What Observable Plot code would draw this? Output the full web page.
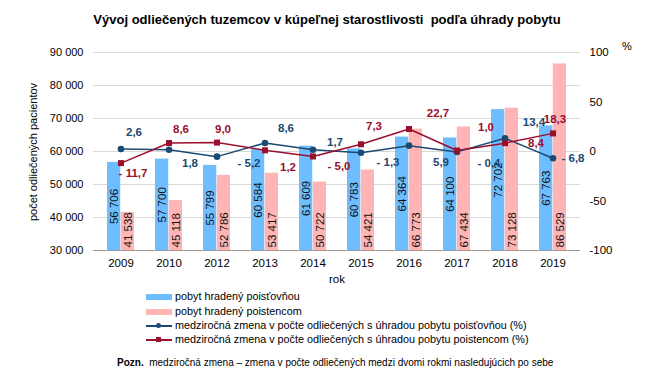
<!DOCTYPE html>
<html><head><meta charset="utf-8">
<script src="https://cdn.jsdelivr.net/npm/d3@7"></script>
<script src="https://cdn.jsdelivr.net/npm/@observablehq/plot@0.6"></script>
<style>
body{margin:0;background:#fff}
#wrap{position:relative;width:650px;height:379px;font-family:"Liberation Sans",Arial,sans-serif;color:#000}
#title{position:absolute;left:0;top:12px;width:654px;text-align:center;font-weight:bold;font-size:13px;white-space:pre}
#chart{position:absolute;left:0;top:0}
#pct{position:absolute;left:622px;top:40px;font-size:11px}
#ylab{position:absolute;left:33px;top:152px;font-size:11px;white-space:nowrap;transform:translate(-50%,-50%) rotate(-90deg)}
.leg{position:absolute;left:146px;font-size:10.8px;height:14px;line-height:14px}
.leg span.sw{display:inline-block;vertical-align:middle;width:26px;margin-right:3px;position:relative}
#note{position:absolute;left:117px;top:357px;font-size:10px;white-space:pre}
</style></head>
<body>
<div id="wrap">
<div id="title">Vývoj odliečených tuzemcov v kúpeľnej starostlivosti  podľa úhrady pobytu</div>
<div id="chart"></div>
<div id="pct">%</div>
<div id="ylab">počet odliečených pacientov</div>
<div id="legend"></div>
<div id="note"><b>Pozn.</b>  medziročná zmena – zmena v počte odliečených medzi dvomi rokmi nasledujúcich po sebe</div>
</div>
<script>
const years = ["2009","2010","2012","2013","2014","2015","2016","2017","2018","2019"];
const insured = [56706,57700,55799,60584,61609,60783,64364,64100,72702,67763];
const selfPaid = [41538,45118,52786,53417,50722,54421,66773,67434,73128,86529];
const insuredChange = [2.6,1.8,-5.2,8.6,1.7,-1.3,5.9,-0.4,13.4,-6.8];
const selfChange = [-11.7,8.6,9.0,1.2,-5.0,7.3,22.7,1.0,8.4,18.3];
const leftTicks = [30000,40000,50000,60000,70000,80000,90000];
const rightTicks = [-100,-50,0,50,100];
const seriesNames = ["pobyt hradený poisťovňou","pobyt hradený poistencom",
  "medziročná zmena v počte odliečených s úhradou pobytu poisťovňou (%)",
  "medziročná zmena v počte odliečených s úhradou pobytu poistencom (%)"];

// label offsets (layout only)
const insuredLabelOff = [[13,-17],[21,14],[32,7],[21,-15],[22,-8],[27,10],[32,17],[32,11],[29,-16],[20,0]];
const selfLabelOff = [[12,10],[12,-14],[6,-13],[23,17],[26,10],[13,-18],[29,-16],[29,-23],[31,0],[2,-14]];

const BLUE="#6EBEFF", PINK="#FFB5B5", NAVY="#1B4A72", WINE="#990F2E";
const pctY = p => 60000 + p*300;
const fmtN = d => d3.format(",")(d).replace(/,/g," ");
const fmtP = p => (p<0 ? "- " : "") + Math.abs(p).toFixed(1).replace(".",",");

const rows = years.map((y,i)=>({year:y, ins:insured[i], self:selfPaid[i], ic:insuredChange[i], sc:selfChange[i]}));

const labelMarks = [];
rows.forEach((r,i)=>{
  labelMarks.push(Plot.text([r],{x:"year", y:d=>pctY(d.ic), text:d=>fmtP(d.ic), dx:insuredLabelOff[i][0], dy:insuredLabelOff[i][1], fill:NAVY, fontWeight:"bold", fontSize:11.5}));
  labelMarks.push(Plot.text([r],{x:"year", y:d=>pctY(d.sc), text:d=>fmtP(d.sc), dx:selfLabelOff[i][0], dy:selfLabelOff[i][1], fill:WINE, fontWeight:"bold", fontSize:11.5}));
});

const chart = Plot.plot({
  width:650, height:290,
  marginLeft:93, marginRight:70, marginTop:52, marginBottom:40,
  style:{fontFamily:"'Liberation Sans',Arial,sans-serif", fontSize:"11px", color:"#000", background:"transparent"},
  x:{type:"band", domain:years, paddingInner:0.437, paddingOuter:0.21},
  y:{domain:[30000,90000]},
  marks:[
    Plot.gridY(leftTicks,{stroke:"#d9d9d9", strokeOpacity:1}),
    Plot.barY(rows,{x:"year", y1:30000, y2:"ins", fill:BLUE, insetRight:13.75, insetLeft:0}),
    Plot.barY(rows,{x:"year", y1:30000, y2:"self", fill:PINK, insetLeft:13.75, insetRight:0}),
    Plot.ruleY([30000],{stroke:"#999"}),
    Plot.text(rows,{x:"year", y:d=>(d.ins+30000)/2, text:d=>fmtN(d.ins), rotate:-90, dx:-7, fill:"#111", fontSize:11.5}),
    Plot.text(rows,{x:"year", y:30000, text:d=>fmtN(d.self), rotate:-90, dx:7, dy:-3, textAnchor:"start", fill:"#111", fontSize:11.5}),
    Plot.line(rows,{x:"year", y:d=>pctY(d.ic), stroke:NAVY, strokeWidth:1.5}),
    Plot.line(rows,{x:"year", y:d=>pctY(d.sc), stroke:WINE, strokeWidth:1.5}),
    Plot.dot(rows,{x:"year", y:d=>pctY(d.ic), r:3.3, fill:NAVY}),
    Plot.dot(rows,{x:"year", y:d=>pctY(d.sc), r:3.4, symbol:"square", fill:WINE}),
    ...labelMarks,
    Plot.axisY(leftTicks,{anchor:"left", tickSize:0, tickPadding:10, tickFormat:fmtN, label:null, fontSize:11}),
    Plot.axisY(rightTicks.map(pctY),{anchor:"right", tickSize:0, tickPadding:9, tickFormat:d=>String(Math.round((d-60000)/300)), label:null, fontSize:11.5}),
    Plot.axisX({tickSize:0, tickPadding:8, label:"rok", labelAnchor:"center", labelOffset:32, fontSize:11.5})
  ]
});
document.getElementById("chart").appendChild(chart);

// legend
const leg = document.getElementById("legend");
const legTops = [289,304,318,332];
seriesNames.forEach((name,i)=>{
  const div = document.createElement("div");
  div.className="leg"; div.style.top = legTops[i]+"px";
  const sw = document.createElement("span"); sw.className="sw";
  if(i<2){ sw.style.height="6px"; sw.style.background = i===0?BLUE:PINK; }
  else {
    const c = i===2?NAVY:WINE;
    sw.style.height="1.5px"; sw.style.background=c;
    const m = document.createElement("span");
    m.style.cssText = `position:absolute;left:10px;top:-2px;width:5px;height:5px;background:${c};border-radius:${i===2?"50%":"0"}`;
    sw.appendChild(m);
  }
  div.appendChild(sw);
  div.appendChild(document.createTextNode(name));
  leg.appendChild(div);
});
</script>
</body></html>
